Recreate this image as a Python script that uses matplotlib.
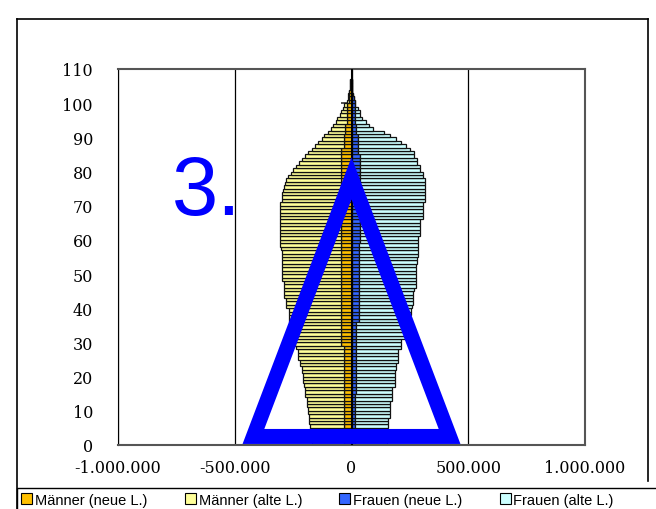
import numpy as np
import matplotlib.pyplot as plt
from matplotlib.patches import Patch, Polygon, Rectangle
from matplotlib.lines import Line2D

# Alter 0..106, Werte in Tausend
ages = np.arange(107)

m_total = np.array([
    170, 170, 172, 178, 179, 179, 180, 180, 181, 186,
    187, 191, 191, 192, 199, 200, 200, 202, 207, 208,
    209, 213, 214, 221, 222, 229, 230, 231, 238, 240,
    262, 263, 264, 264, 265, 265, 266, 268, 268, 269,
    280, 281, 282, 288, 289, 289, 290, 290, 297, 297,
    298, 298, 298, 298, 299, 299, 299, 300, 305, 306,
    306, 306, 306, 306, 307, 307, 307, 307, 306, 306,
    305, 298, 298, 297, 294, 289, 285, 281, 272, 260,
    251, 238, 226, 213, 200, 187, 170, 157, 145, 128,
    119, 102, 89, 81, 68, 60, 51, 43, 38, 30,
    21, 17, 13, 10, 8, 7, 6])

m_neue = np.array([
    30, 30, 30, 30, 30, 30, 30, 30, 30, 30,
    30, 30, 30, 30, 30, 30, 30, 30, 30, 30,
    30, 30, 30, 30, 30, 30, 30, 30, 30, 43,
    43, 43, 43, 43, 43, 43, 43, 43, 43, 43,
    43, 43, 43, 43, 43, 43, 43, 43, 43, 43,
    43, 43, 43, 43, 43, 43, 47, 47, 47, 47,
    47, 47, 47, 47, 47, 47, 47, 47, 47, 47,
    47, 43, 43, 43, 43, 43, 43, 43, 43, 43,
    43, 43, 43, 43, 43, 43, 43, 34, 34, 34,
    34, 26, 26, 26, 20, 20, 20, 20, 20, 20,
    12, 10, 10, 10, 8, 7, 6])

f_total = np.array([
    150, 150, 151, 151, 152, 157, 157, 158, 165, 166,
    166, 167, 167, 174, 174, 175, 175, 186, 187, 187,
    188, 188, 191, 192, 200, 200, 201, 201, 213, 213,
    214, 235, 238, 241, 243, 245, 247, 250, 255, 256,
    257, 264, 264, 265, 265, 266, 277, 277, 277, 278,
    278, 278, 278, 279, 279, 285, 285, 285, 286, 286,
    286, 294, 294, 295, 295, 295, 306, 306, 306, 307,
    307, 315, 315, 315, 316, 316, 316, 315, 306, 306,
    294, 294, 281, 281, 268, 268, 251, 234, 213, 191,
    166, 140, 94, 77, 60, 47, 38, 38, 26, 17,
    17, 9, 6, 4, 3, 2, 1])

f_neue = np.array([
    13, 13, 13, 13, 13, 13, 13, 13, 13, 13,
    13, 13, 13, 13, 13, 21, 21, 21, 21, 21,
    21, 21, 21, 21, 21, 21, 21, 21, 21, 21,
    21, 21, 21, 21, 21, 21, 30, 30, 30, 30,
    30, 30, 30, 30, 30, 30, 30, 30, 30, 30,
    30, 30, 30, 30, 30, 30, 30, 30, 30, 38,
    38, 38, 38, 38, 38, 38, 38, 38, 38, 38,
    38, 38, 38, 38, 38, 38, 38, 38, 38, 38,
    38, 38, 38, 38, 38, 26, 26, 26, 26, 26,
    26, 21, 21, 21, 13, 13, 13, 13, 13, 13,
    13, 9, 6, 4, 3, 2, 1])

labels = ['Männer (neue L.)', 'Männer (alte L.)', 'Frauen (neue L.)', 'Frauen (alte L.)']
colors = ['#FFC000', '#FFFF99', '#3366FF', '#CCFFFF']

x_ticks = [-1000000, -500000, 0, 500000, 1000000]
y_ticks = list(range(0, 111, 10))

fig = plt.figure(figsize=(6.56, 5.10), dpi=100)
ax = fig.add_axes([118/656, 64/510, 467/656, 376/510])

# Teilstriche der Kategorienachse bei 0 (hinter den Balken)
ax.hlines(y_ticks, -45000, 0, color='#333333', lw=1.2, zorder=1)

kw = dict(height=1, align='edge', edgecolor='#111111', linewidth=0.9, zorder=2)
ax.barh(ages, -m_neue*1000, color=colors[0], **kw)
ax.barh(ages, -(m_total - m_neue)*1000, left=-m_neue*1000, color=colors[1], **kw)
ax.barh(ages, f_neue*1000, color=colors[2], **kw)
ax.barh(ages, (f_total - f_neue)*1000, left=f_neue*1000, color=colors[3], **kw)

ax.set_xlim(-1000000, 1000000)
ax.set_ylim(0, 110)
ax.set_xticks(x_ticks)
ax.set_xticklabels([f'{v:,}'.replace(',', '.') for v in x_ticks])
ax.set_yticks(y_ticks)
ax.set_yticklabels([str(v) for v in y_ticks])
ax.tick_params(length=0, labelsize=11.5)
ax.tick_params(axis='y', pad=18)
ax.tick_params(axis='x', pad=10)
for lab in ax.get_xticklabels() + ax.get_yticklabels():
    lab.set_family('DejaVu Serif')

ax.xaxis.grid(True, color='black', lw=0.9)
ax.set_axisbelow(True)
ax.axvline(0, color='black', lw=1.5, zorder=3)
for s in ['top', 'right', 'bottom']:
    ax.spines[s].set_color('#555555')
    ax.spines[s].set_linewidth(1.5)
ax.spines['left'].set_color('black')

# Anmerkungen
ax.text(-770000, 67.7, '3.', color='#0000FF', fontsize=60,
        family='Liberation Sans', va='baseline', ha='left', zorder=6)
tri = Polygon([(-420000, 2.5), (0, 78), (420000, 2.5)], closed=True, fill=False,
              edgecolor='#0000FF', lw=10.8, joinstyle='miter', clip_on=False, zorder=5)
ax.add_patch(tri)

# Rahmen
fig.add_artist(Line2D([17/656, 17/656], [0, 1 - 20/510], color='black', lw=1.2))
fig.add_artist(Line2D([17/656, 648/656], [1 - 20/510, 1 - 20/510], color='black', lw=1.2))
fig.add_artist(Line2D([648/656, 648/656], [1 - 20/510, 1 - 482/510], color='black', lw=1.2))
# Legendenrahmen, rechts ueber den Bildrand hinaus
fig.add_artist(Rectangle((17/656, -0.01), 0.99, 1 - 489/510 + 0.01,
                         fill=False, edgecolor='black', lw=1.0))

handles = [Patch(facecolor=c, edgecolor='black', lw=0.8) for c in colors]
leg = fig.legend(handles, labels, ncol=4, loc='lower left', bbox_to_anchor=(17/656, -0.004),
                 frameon=False,
                 prop={'family': 'Liberation Sans', 'size': 10.5},
                 handlelength=0.75, handleheight=0.75, handletextpad=0.2,
                 columnspacing=2.55, borderpad=0.3, borderaxespad=0)

fig.savefig('out.png', dpi=100)
